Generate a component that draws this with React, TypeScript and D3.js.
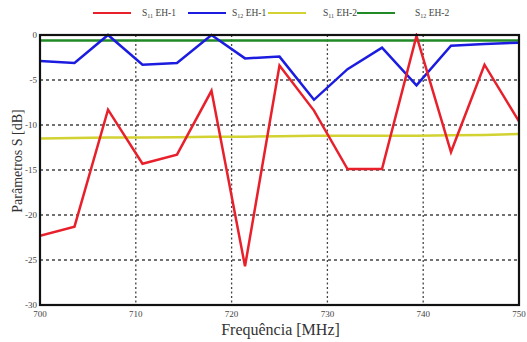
import React from "react";
import * as d3 from "d3";

const freqs = [700, 703.6, 707.1, 710.7, 714.3, 717.9, 721.4, 725, 728.6, 732.1, 735.7, 739.3, 742.9, 746.4, 750];
const s11EH1 = [-22.3, -21.3, -8.3, -14.3, -13.3, -6.2, -25.7, -3.4, -8.4, -14.9, -14.9, -0.1, -13.0, -3.3, -9.6];
const s12EH1 = [-2.9, -3.1, 0, -3.3, -3.1, 0, -2.6, -2.4, -7.2, -3.8, -1.4, -5.6, -1.2, -1.0, -0.85];
const s11EH2 = [-11.5, -11.45, -11.4, -11.4, -11.35, -11.3, -11.3, -11.25, -11.2, -11.2, -11.2, -11.2, -11.15, -11.1, -11.0];
const s12EH2 = [-0.6, -0.6, -0.6, -0.6, -0.6, -0.6, -0.6, -0.6, -0.6, -0.6, -0.6, -0.6, -0.6, -0.6, -0.6];
const xTicks = [700, 710, 720, 730, 740, 750];
const yTicks = [0, -5, -10, -15, -20, -25, -30];

const series = [
  { sub: "11", name: "EH-1", values: s11EH1, color: "#e8202c" },
  { sub: "12", name: "EH-1", values: s12EH1, color: "#1c1ce0" },
  { sub: "11", name: "EH-2", values: s11EH2, color: "#d2d232" },
  { sub: "12", name: "EH-2", values: s12EH2, color: "#1f8a26" },
];

export default function App() {
  const W = 527, H = 342;
  const m = { l: 40, r: 519, t: 35, b: 305 };
  const x = d3.scaleLinear().domain([700, 750]).range([m.l, m.r]);
  const y = d3.scaleLinear().domain([-30, 0]).range([m.b, m.t]);
  const line = d3.line<number>().x((_, i) => x(freqs[i])).y((v) => y(v));
  const font = "Liberation Serif, Times New Roman, DejaVu Serif, serif";
  const legendX = [93, 188, 268, 357];
  const legendTextX = [142, 232, 323, 415];
  return (
    <svg width={W} height={H} style={{ position: "absolute", left: 0, top: 0, fontFamily: font }}>
      <rect x={0} y={0} width={W} height={H} fill="#fff" />
      <defs>
        <clipPath id="plot">
          <rect x={m.l} y={m.t - 2} width={m.r - m.l} height={m.b - m.t + 2} />
        </clipPath>
      </defs>
      {/* grid */}
      {yTicks.slice(1, -1).map((t) => (
        <line key={"gy" + t} x1={m.l} x2={m.r} y1={y(t)} y2={y(t)} stroke="#444" strokeWidth={1.3} strokeDasharray="3,3" />
      ))}
      {xTicks.slice(1, -1).map((t) => (
        <line key={"gx" + t} x1={x(t)} x2={x(t)} y1={m.t} y2={m.b} stroke="#444" strokeWidth={1.3} strokeDasharray="2,2.5" />
      ))}
      {/* series */}
      <g clipPath="url(#plot)">
        {[3, 2, 1, 0].map((k) => (
          <path key={k} d={line(series[k].values) || ""} fill="none" stroke={series[k].color} strokeWidth={2.5} strokeLinejoin="miter" />
        ))}
      </g>
      {/* frame */}
      <rect x={m.l} y={m.t} width={m.r - m.l} height={m.b - m.t} fill="none" stroke="#111" strokeWidth={2.2} />
      {/* y tick labels */}
      {yTicks.map((t) => (
        <text key={"ty" + t} x={m.l - 3} y={y(t) + 3} fontSize={9} textAnchor="end" fill="#444">
          {t === 0 ? "0" : "-" + Math.abs(t)}
        </text>
      ))}
      {xTicks.map((t) => (
        <text key={"tx" + t} x={x(t)} y={m.b + 12} fontSize={9} textAnchor="middle" fill="#444">
          {t}
        </text>
      ))}
      {/* axis titles */}
      <text x={(m.l + m.r) / 2 + 1} y={335} fontSize={16} textAnchor="middle" fill="#333">Frequência [MHz]</text>
      <text transform={`translate(22,161) rotate(-90)`} fontSize={14} textAnchor="middle" fill="#333">Parâmetros S [dB]</text>
      {/* legend */}
      {series.map((s, i) => (
        <g key={"lg" + i}>
          <line x1={legendX[i]} x2={legendX[i] + 38} y1={13} y2={13} stroke={s.color} strokeWidth={2.2} />
          <text x={legendTextX[i]} y={16} fontSize={9.5} fill="#444">
            S<tspan fontSize={6} dy={2}>{s.sub}</tspan>
            <tspan dy={-2}> {s.name}</tspan>
          </text>
        </g>
      ))}
    </svg>
  );
}
